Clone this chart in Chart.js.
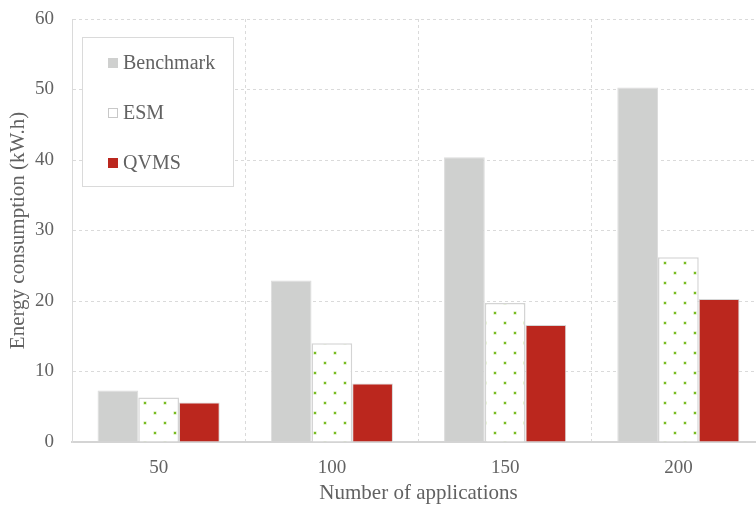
<!DOCTYPE html>
<html>
<head>
<meta charset="utf-8">
<script src="https://cdn.jsdelivr.net/npm/chart.js@4"></script>
<style>
  body { margin: 0; background: #fff; overflow: hidden; }
  #wrap { width: 770px; height: 508px; }
</style>
</head>
<body>
<div id="wrap"><canvas id="energyChart" width="770" height="508"></canvas></div>
<script>
const categories = ['50', '100', '150', '200'];
const benchmark = [7.3, 22.9, 40.4, 50.3];
const esm = [6.3, 14.0, 19.7, 26.2];
const qvms = [5.6, 8.3, 16.6, 20.3];
const yTicks = [0, 10, 20, 30, 40, 50, 60];

const serif = 'Liberation Serif';
const textGray = '#626262';
const lineGray = '#dadada';

// white tile with green dots for the ESM bars
const makeDots = () => {
  const c = document.createElement('canvas');
  c.width = 20; c.height = 20;
  const g = c.getContext('2d');
  g.fillStyle = '#ffffff';
  g.fillRect(0, 0, 20, 20);
  g.fillStyle = '#c4e39a';
  g.fillRect(3.5, 1.5, 3, 3);
  g.fillRect(13.5, 11.5, 3, 3);
  g.fillStyle = '#78bc22';
  g.fillRect(4, 2, 2, 2);
  g.fillRect(14, 12, 2, 2);
  return g.createPattern(c, 'repeat');
};
const dots = makeDots();

// legend drawn inside the plot, in a bordered white box
const boxLegend = {
  id: 'boxLegend',
  afterDraw(chart) {
    const ctx = chart.ctx;
    const a = chart.chartArea;
    const x = a.left + 10, y = a.top + 18;
    ctx.save();
    ctx.fillStyle = '#ffffff';
    ctx.fillRect(x, y, 151, 149);
    ctx.strokeStyle = lineGray;
    ctx.lineWidth = 1;
    ctx.strokeRect(x + 0.5, y + 0.5, 151, 149);
    ctx.font = '20px "' + serif + '"';
    ctx.textBaseline = 'middle';
    chart.data.datasets.forEach((ds, i) => {
      const cy = y + 26 + i * 50;
      ctx.fillStyle = ds.legendColor;
      ctx.fillRect(x + 26, cy - 5, 10, 10);
      ctx.strokeStyle = ds.legendBorder;
      ctx.strokeRect(x + 26.5, cy - 4.5, 9, 9);
      ctx.fillStyle = textGray;
      ctx.fillText(ds.label, x + 41, cy + 1);
    });
    ctx.restore();
  }
};

const energyData = {
  labels: categories,
  datasets: [{
    label: 'Benchmark',
    data: benchmark,
    backgroundColor: '#cfd0cf',
    borderColor: '#dcdcdc',
    borderWidth: 1,
    legendColor: '#cfd0cf',
    legendBorder: '#cfd0cf'
  }, {
    label: 'ESM',
    data: esm,
    backgroundColor: dots,
    borderColor: '#d4d4d4',
    borderWidth: 1.5,
    legendColor: '#ffffff',
    legendBorder: '#c8c8c8'
  }, {
    label: 'QVMS',
    data: qvms,
    backgroundColor: '#bb271e',
    borderColor: '#d6d6d6',
    borderWidth: 1,
    legendColor: '#bb271e',
    legendBorder: '#bb271e'
  }]
};

const energyOptions = {
  responsive: false,
  animation: false,
  devicePixelRatio: 1,
  layout: { padding: { left: 0, right: 5, top: 19, bottom: 0 } },
  datasets: {
    bar: { categoryPercentage: 0.705, barPercentage: 1 }
  },
  scales: {
    x: {
      afterFit: (s) => { s.height = 66; s.paddingLeft = 0; s.paddingRight = 0; },
      grid: { color: lineGray, drawTicks: false },
      border: { color: '#d4d4d4', width: 2, dash: [3, 3] },
      ticks: { color: textGray, padding: 15, font: { family: serif, size: 19 } },
      title: {
        display: true,
        text: 'Number of applications',
        color: textGray,
        padding: { top: 0, bottom: 2 },
        font: { family: serif, size: 21 }
      }
    },
    y: {
      min: 0,
      max: 60,
      afterFit: (s) => { s.width = 72; s.paddingTop = 0; s.paddingBottom = 0; },
      afterBuildTicks: (s) => { s.ticks = yTicks.map(v => ({ value: v })); },
      grid: { color: lineGray, drawTicks: false },
      border: { display: true, color: lineGray, width: 1, dash: [3, 3] },
      ticks: { color: textGray, padding: 18, font: { family: serif, size: 19 } },
      title: {
        display: true,
        text: 'Energy consumption (kW.h)',
        color: textGray,
        padding: { top: 6, bottom: 0 },
        font: { family: serif, size: 21 }
      }
    }
  },
  plugins: {
    legend: { display: false },
    tooltip: { enabled: false }
  }
};

new Chart(document.getElementById('energyChart'), {
  type: 'bar',
  data: energyData,
  options: energyOptions,
  plugins: [boxLegend]
});
</script>
</body>
</html>
